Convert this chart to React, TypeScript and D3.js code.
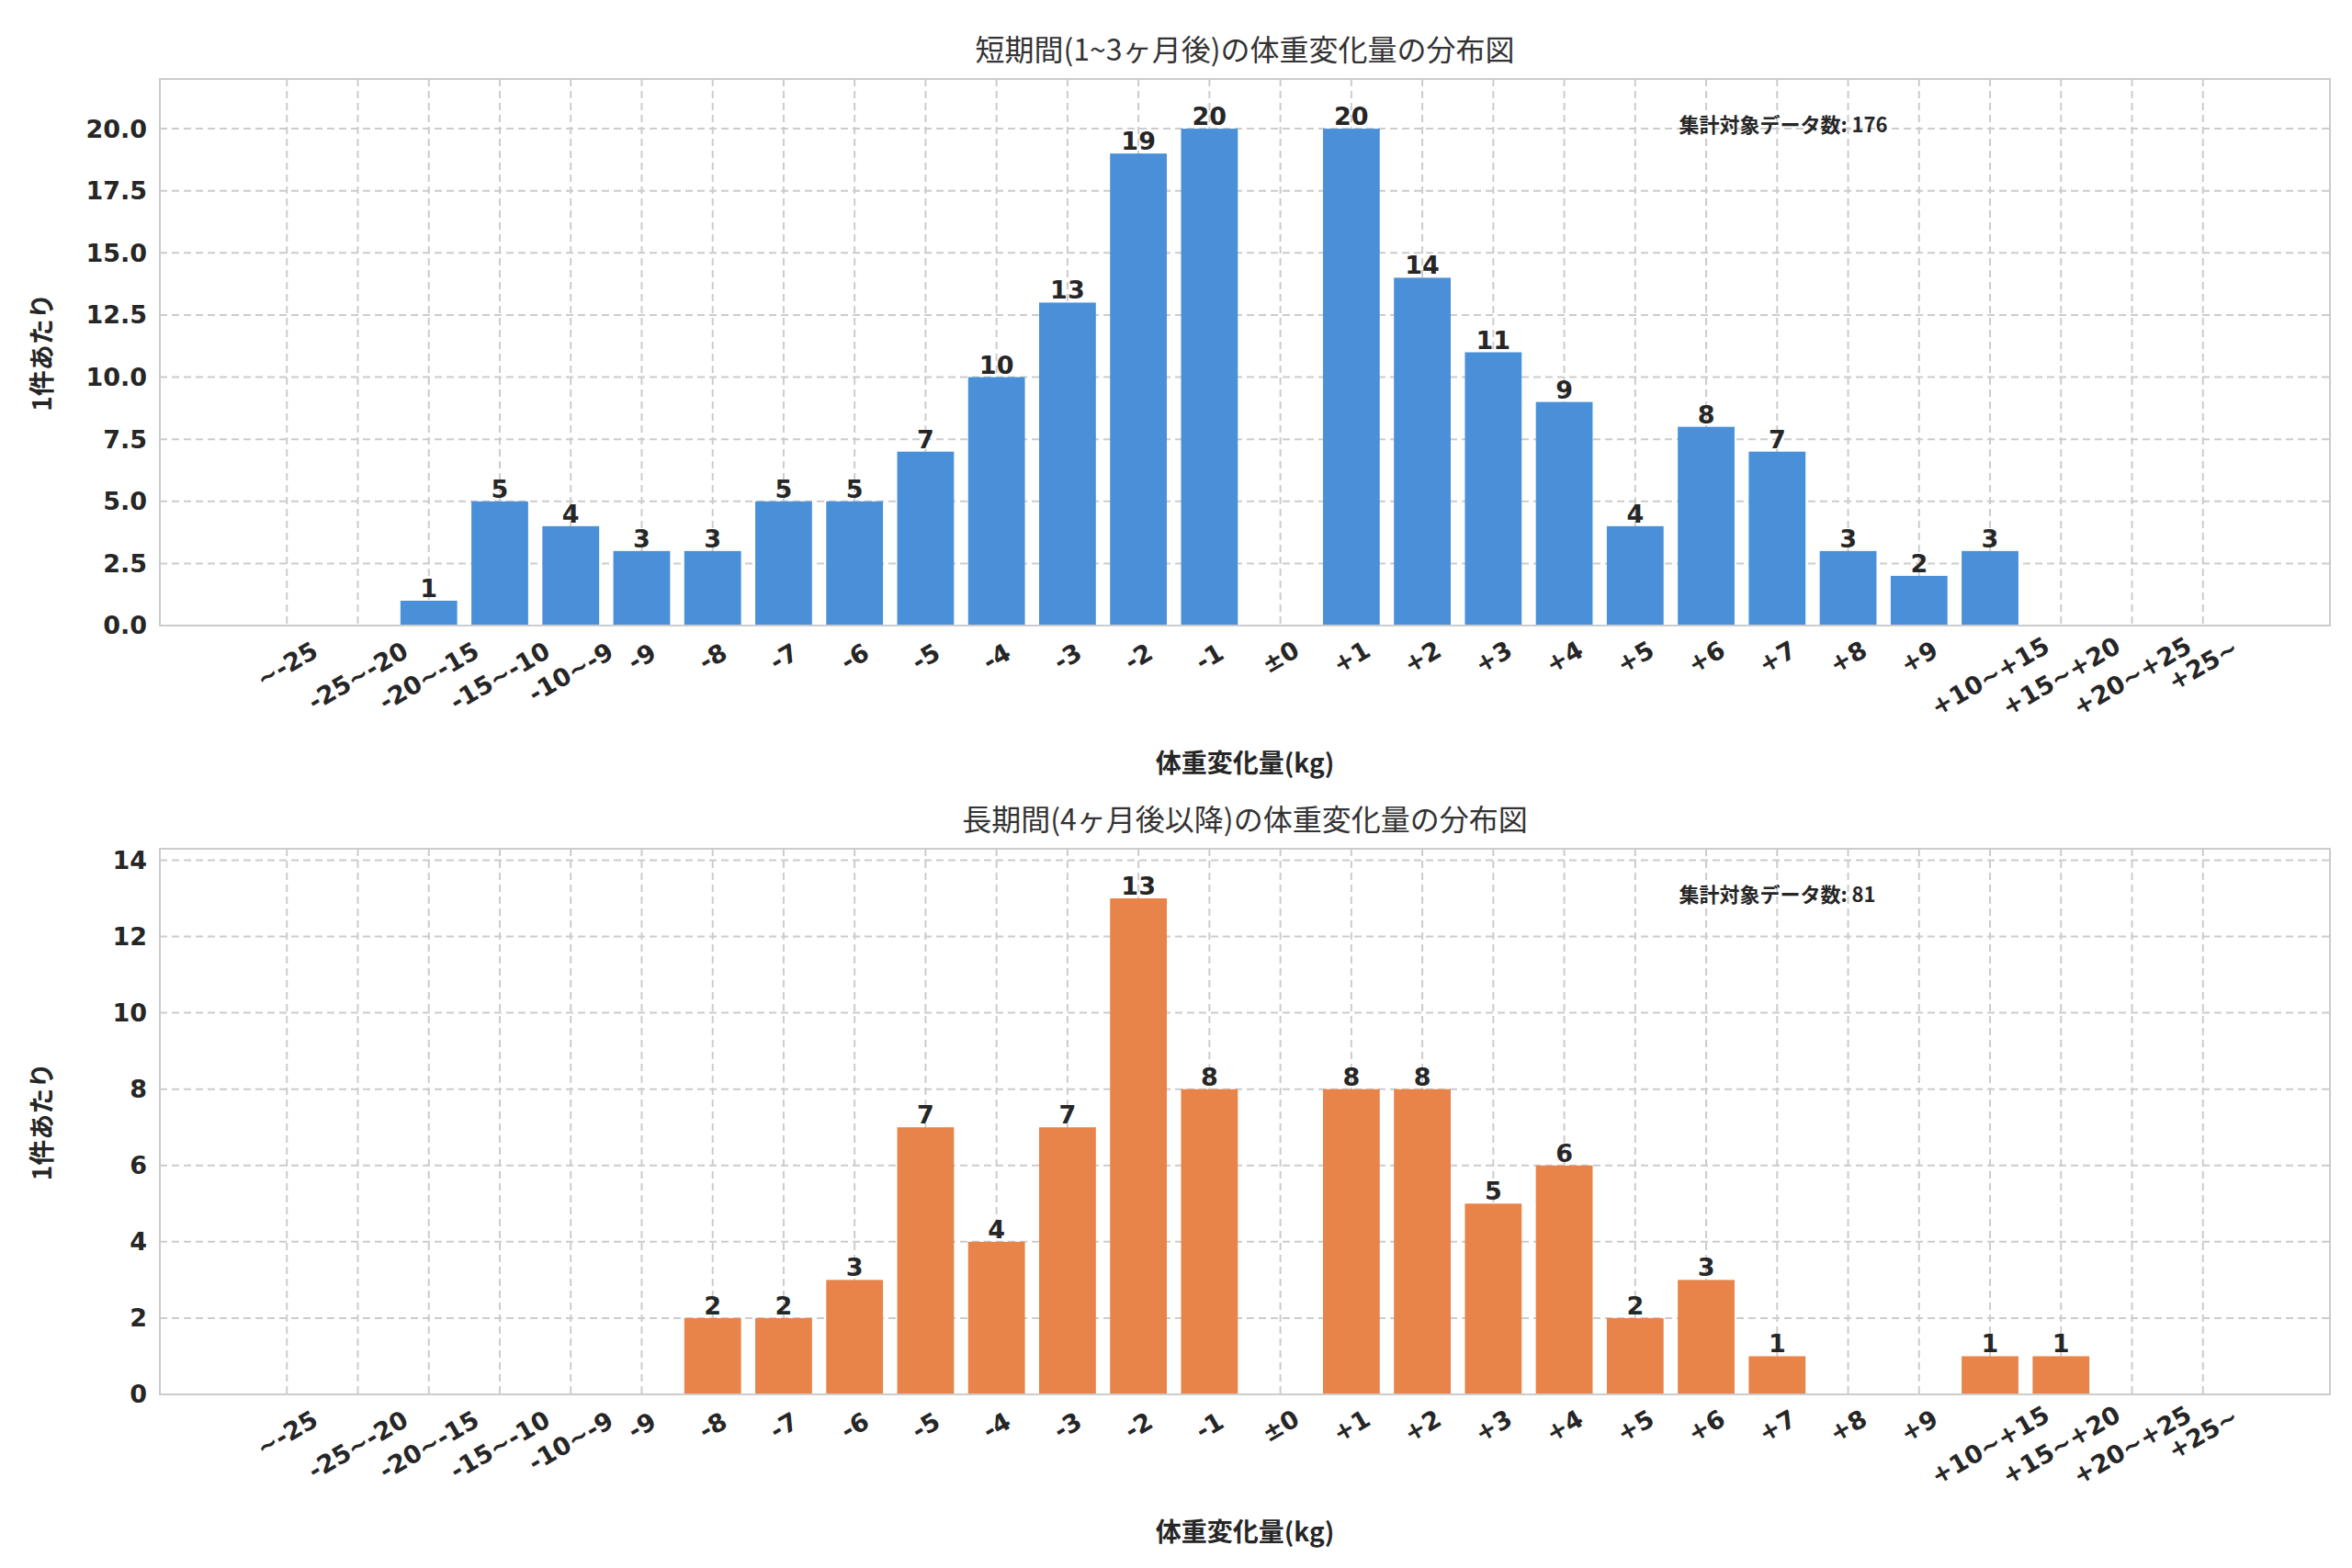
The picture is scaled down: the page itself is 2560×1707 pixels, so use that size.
import React from 'react';
import * as d3 from 'd3';

const categories = ['~-25', '-25~-20', '-20~-15', '-15~-10', '-10~-9', '-9', '-8', '-7', '-6', '-5', '-4', '-3', '-2', '-1', '±0', '+1', '+2', '+3', '+4', '+5', '+6', '+7', '+8', '+9', '+10~+15', '+15~+20', '+20~+25', '+25~'];
const shortTermCounts = [0, 0, 1, 5, 4, 3, 3, 5, 5, 7, 10, 13, 19, 20, 0, 20, 14, 11, 9, 4, 8, 7, 3, 2, 3, 0, 0, 0];
const longTermCounts = [0, 0, 0, 0, 0, 0, 2, 2, 3, 7, 4, 7, 13, 8, 0, 8, 8, 5, 6, 2, 3, 1, 0, 0, 1, 1, 0, 0];
const shortTicks = [0, 2.5, 5, 7.5, 10, 12.5, 15, 17.5, 20];
const longTicks = [0, 2, 4, 6, 8, 10, 12, 14];

const W = 2560;
const H = 1707;
const FONT = '"DejaVu Sans", "Noto Sans CJK JP", sans-serif';
const CJK = '"Noto Sans CJK JP", "DejaVu Sans", sans-serif';

interface PanelProps {
  top: number;
  bottom: number;
  counts: number[];
  ticks: number[];
  fmt: (d: number) => string;
  color: string;
  title: string;
  total: number;
}

const Panel: React.FC<PanelProps> = ({ top, bottom, counts, ticks, fmt, color, title, total }) => {
  const left = 166;
  const right = 2528;
  const maxV = d3.max(counts) || 1;
  const x = d3.scaleLinear().domain([-1.79, categories.length - 1 + 1.79]).range([left, right]);
  const y = d3.scaleLinear().domain([0, maxV * 1.1]).range([bottom, top]);
  const bw = x(0.8) - x(0);
  const fs = 27;
  return (
    <g>
      <text x={(left + right) / 2} y={top - 20} textAnchor="middle" fontFamily={CJK} fontSize={32} fill="#333">{title}</text>
      {categories.map((c, i) => (
        <line key={'gx' + i} x1={x(i)} x2={x(i)} y1={top} y2={bottom} stroke="#cccccc" strokeWidth={2} strokeDasharray="8,5" />
      ))}
      {ticks.map((t) => (
        <g key={'gy' + t}>
          <line x1={left} x2={right} y1={y(t)} y2={y(t)} stroke="#cccccc" strokeWidth={2} strokeDasharray="8,5" />
          <text x={left - 14} y={y(t)} dy="0.35em" textAnchor="end" fontFamily={FONT} fontWeight="bold" fontSize={fs} fill="#262626">{fmt(t)}</text>
        </g>
      ))}
      {counts.map((v, i) => (
        <g key={'b' + i}>
          {v > 0 && <rect x={x(i) - bw / 2} y={y(v)} width={bw} height={y(0) - y(v)} fill={color} />}
          {v > 0 && <text x={x(i)} y={y(v) - 4} textAnchor="middle" fontFamily={FONT} fontWeight="bold" fontSize={fs} fill="#262626">{v}</text>}
        </g>
      ))}
      <rect x={left} y={top} width={right - left} height={bottom - top} fill="none" stroke="#cccccc" strokeWidth={2} />
      {categories.map((c, i) => {
        const tw = c.length * fs * 0.62;
        const hh = (tw * 0.5 + fs * 0.87) / 2;
        return (
          <text key={'xl' + i} transform={`translate(${x(i)},${bottom + 14 + hh}) rotate(-30)`} textAnchor="middle" dominantBaseline="central" fontFamily={FONT} fontWeight="bold" fontSize={fs} fill="#262626">{c}</text>
        );
      })}
      <text x={(left + right) / 2} y={bottom + 160} textAnchor="middle" fontFamily={CJK} fontWeight="bold" fontSize={28} fill="#262626">体重変化量(kg)</text>
      <text transform={`translate(48,${(top + bottom) / 2}) rotate(-90)`} textAnchor="middle" fontFamily={CJK} fontWeight="bold" fontSize={28} fill="#262626">1件あたり</text>
      <text x={left + (right - left) * 0.7} y={top + 58} fontFamily={CJK} fontWeight="bold" fontSize={22} fill="#262626">集計対象データ数: {total}</text>
    </g>
  );
};

export default function App() {
  return (
    <svg width={W} height={H} style={{ display: 'block', background: '#fff' }}>
      <rect width={W} height={H} fill="#fff" />
      <Panel top={78} bottom={673} counts={shortTermCounts} ticks={shortTicks} fmt={(d) => d.toFixed(1)} color="#4A90D9" title="短期間(1~3ヶ月後)の体重変化量の分布図" total={d3.sum(shortTermCounts)} />
      <Panel top={916} bottom={1510} counts={longTermCounts} ticks={longTicks} fmt={(d) => String(d)} color="#E8834A" title="長期間(4ヶ月後以降)の体重変化量の分布図" total={d3.sum(longTermCounts)} />
    </svg>
  );
}
